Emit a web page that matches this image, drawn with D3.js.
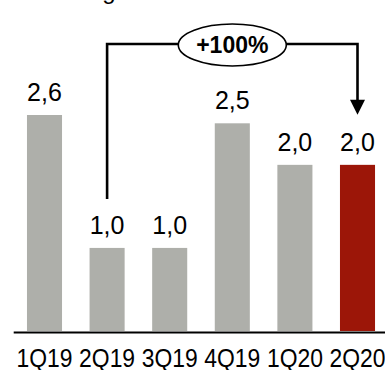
<!DOCTYPE html>
<html>
<head>
<meta charset="utf-8">
<script src="https://cdn.jsdelivr.net/npm/d3@7"></script>
<style>
  html, body { margin: 0; padding: 0; background: #fff; }
  svg { display: block; font-family: "Liberation Sans", Arial, sans-serif; }
</style>
</head>
<body>
<svg id="chart" width="385" height="370"></svg>
<script>
const categories = ["1Q19", "2Q19", "3Q19", "4Q19", "1Q20", "2Q20"];
const values = [2.6, 1.0, 1.0, 2.5, 2.0, 2.0];
const valueLabels = ["2,6", "1,0", "1,0", "2,5", "2,0", "2,0"];
const highlight = "2Q20";
const growthLabel = "+100%";
const growthFrom = "2Q19";
const growthTo = "2Q20";

const svg = d3.select("#chart");

const x = d3.scaleBand()
  .domain(categories)
  .range([13.2, 388.8])
  .paddingInner(0.44)
  .paddingOuter(0.22);

const y = d3.scaleLinear()
  .domain([0, 2.6])
  .range([331, 115]);

// cut-off title remnant
svg.append("text")
  .attr("x", 109).attr("y", -1)
  .attr("text-anchor", "middle")
  .attr("font-size", 24)
  .attr("fill", "#000")
  .text("g");

// bars
svg.selectAll("rect.bar")
  .data(categories)
  .join("rect")
  .attr("class", "bar")
  .attr("x", d => x(d))
  .attr("width", x.bandwidth())
  .attr("y", (d, i) => y(values[i]))
  .attr("height", (d, i) => y(0) - y(values[i]))
  .attr("fill", d => d === highlight ? "#9c1608" : "#aeafaa");

// value labels
svg.selectAll("text.val")
  .data(categories)
  .join("text")
  .attr("class", "val")
  .attr("x", d => x(d) + x.bandwidth() / 2)
  .attr("y", (d, i) => y(values[i]) - 14)
  .attr("text-anchor", "middle")
  .attr("font-size", 25)
  .attr("fill", "#000")
  .text((d, i) => valueLabels[i]);

// x axis
const xAxis = svg.append("g")
  .attr("transform", "translate(0,332)")
  .call(d3.axisBottom(x).tickSize(0).tickSizeOuter(0));
xAxis.select(".domain").attr("stroke", "#000").attr("stroke-width", 2.2);
xAxis.selectAll("text")
  .attr("y", 34.5)
  .attr("dy", 0)
  .attr("font-size", 25.5)
  .attr("font-family", "'Liberation Sans', Arial, sans-serif")
  .attr("fill", "#000")
  .attr("textLength", 56)
  .attr("lengthAdjust", "spacingAndGlyphs");

// growth bracket
const iFrom = categories.indexOf(growthFrom);
const iTo = categories.indexOf(growthTo);
const xFrom = x(growthFrom) + x.bandwidth() / 2;
const xTo = x(growthTo) + x.bandwidth() / 2;
const topY = 44;
const yFrom = y(values[iFrom]) - 49;
const yTip = y(values[iTo]) - 50;
const headLen = 15;

svg.append("path")
  .attr("d", `M${xFrom},${yFrom} V${topY} H${xTo} V${yTip - headLen + 1}`)
  .attr("fill", "none")
  .attr("stroke", "#000")
  .attr("stroke-width", 2.6);

svg.append("path")
  .attr("d", `M${xTo - 7.5},${yTip - headLen} L${xTo + 7.5},${yTip - headLen} L${xTo},${yTip} Z`)
  .attr("fill", "#000");

const cx = (xFrom + xTo) / 2;
svg.append("ellipse")
  .attr("cx", cx).attr("cy", 45)
  .attr("rx", 54).attr("ry", 21)
  .attr("fill", "#fff")
  .attr("stroke", "#000")
  .attr("stroke-width", 1.6);

svg.append("text")
  .attr("x", cx).attr("y", 53)
  .attr("text-anchor", "middle")
  .attr("font-size", 23)
  .attr("font-weight", "bold")
  .attr("fill", "#000")
  .text(growthLabel);
</script>
</body>
</html>
